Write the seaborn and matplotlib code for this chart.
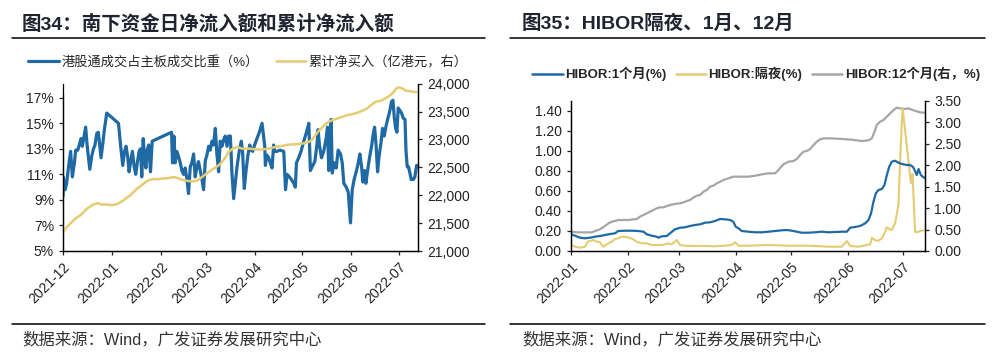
#!/usr/bin/env python3
"""
Southbound flows (fig 34) and HIBOR curves (fig 35), side by side.
"""

import matplotlib
matplotlib.use("Agg")
import matplotlib.pyplot as plt
import matplotlib.ticker as mticker
from matplotlib.lines import Line2D
import seaborn as sns
import pandas as pd

# --- fig 34: day offsets from 2021-12-01 ---
share_day = [0, 0.2, 1.3, 2.3, 3.4, 4.8, 5.9, 7.2, 8.0, 9.3,
             10.3, 11.4, 12.2, 13.3, 14.3, 15.2, 16.0, 16.9, 18.1, 19.2,
             20.2, 21.3, 22.3, 23.2, 24.0, 25.1, 26.1, 27.6, 35.0, 36.4,
             37.7, 38.8, 39.8, 40.9, 41.7, 42.8, 43.8, 44.9, 45.9, 47.0,
             48.0, 48.9, 49.7, 50.6, 51.4, 52.3, 53.1, 54.1, 55.2, 56.3,
             68.5, 69.1, 70.0, 70.8, 71.8, 72.9, 74.0, 75.0, 76.1, 77.1,
             78.2, 79.2, 80.3, 81.3, 82.4, 83.4, 84.5, 85.5, 86.6, 87.7,
             88.7, 89.8, 90.8, 91.9, 92.9, 94.0, 95.0, 96.1, 97.1, 98.2,
             99.2, 100.3, 101.3, 102.4, 103.5, 104.5, 105.6, 106.6, 107.7, 109.8,
             111.2, 112.5, 113.3, 114.4, 115.5, 116.7, 117.8, 118.8, 119.7, 120.9,
             122.4, 123.9, 125.6, 127.3, 127.7, 128.7, 129.8, 130.8, 131.9, 132.9,
             133.6, 135.0, 136.8, 139.3, 140.4, 141.4, 142.9, 144.1, 145.6, 146.6,
             147.3, 148.7, 150.2, 151.9, 153.4, 155.1, 156.1, 157.2, 158.9, 160.3,
             161.0, 161.8, 163.1, 164.5, 166.0, 166.9, 167.7, 168.6, 169.2, 169.9,
             171.1, 172.4, 173.6, 175.1, 176.2, 177.2, 178.7, 180.0, 181.4, 182.5,
             183.7, 185.0, 186.3, 187.3, 188.4, 189.2, 190.3, 191.1, 192.2, 193.4,
             194.7, 195.7, 196.6, 197.6, 198.5, 199.5, 200.6, 201.6, 202.7, 203.7,
             204.8, 206.1, 207.3, 208.2, 209.0, 209.9, 210.7, 211.5, 212.6, 213.6,
             214.7, 215.8, 216.4, 217.2, 218.0, 218.9, 219.7, 221.0, 222.0, 223.1]
share_pct = [9.3, 10.8, 9.8, 10.3, 11.5, 12.8, 10.8, 11.9, 12.9, 12.9,
             13.3, 13.8, 13.2, 14.0, 14.7, 13.3, 12.4, 11.4, 12.4, 13.0,
             13.3, 14.2, 14.3, 13.2, 12.3, 13.4, 14.5, 15.8, 15.0, 13.2,
             11.7, 12.8, 13.2, 12.3, 11.2, 12.1, 12.8, 11.6, 11.0, 12.0,
             12.8, 13.0, 10.8, 13.8, 12.4, 11.5, 12.9, 13.3, 11.2, 13.6,
             14.3, 11.9, 14.0, 11.9, 12.8, 12.4, 11.9, 11.3, 11.0, 11.5,
             10.6, 9.5, 11.6, 11.9, 12.6, 10.8, 11.6, 12.0, 11.3, 10.6,
             9.8, 12.1, 12.5, 13.2, 12.9, 13.6, 13.3, 14.6, 12.6, 11.2,
             13.6, 13.2, 13.7, 14.0, 13.2, 14.0, 14.0, 11.1, 9.1, 11.6,
             12.8, 13.6, 12.8, 9.9, 11.3, 12.5, 13.3, 12.9, 12.8, 13.3,
             13.8, 14.3, 15.0, 13.2, 11.7, 12.5, 12.3, 11.9, 11.5, 13.3,
             12.8, 12.8, 12.9, 12.8, 9.8, 11.0, 10.8, 10.6, 10.3, 10.0,
             11.9, 12.3, 12.8, 13.6, 14.2, 15.0, 11.3, 11.6, 12.0, 13.4,
             14.5, 13.3, 12.3, 12.8, 13.8, 14.7, 11.3, 14.0, 15.3, 11.1,
             11.9, 11.5, 12.9, 12.6, 11.9, 10.3, 10.0, 9.6, 7.2, 9.8,
             10.6, 11.2, 11.9, 12.6, 11.6, 10.4, 11.3, 10.3, 11.3, 12.3,
             13.2, 14.1, 14.7, 13.2, 11.2, 12.5, 13.4, 14.6, 14.0, 14.7,
             15.3, 15.9, 16.7, 16.8, 15.5, 14.6, 14.3, 16.2, 16.0, 15.8,
             15.4, 15.3, 12.9, 11.6, 11.6, 11.1, 10.6, 10.6, 10.8, 11.7]

cum_day = [0, 2.3, 5.5, 7.6, 10.7, 12.9, 15.0, 17.1, 19.2, 21.9,
           24.4, 27.6, 30.8, 34.0, 38.1, 40.2, 42.3, 44.5, 46.6, 48.7,
           50.8, 52.9, 55.0, 57.1, 60.3, 66.6, 69.8, 71.9, 75.0, 77.1,
           79.2, 81.3, 83.4, 85.5, 87.7, 89.8, 91.9, 94.0, 96.1, 98.2,
           100.3, 102.4, 104.5, 106.6, 109.7, 112.9, 117.1, 121.4, 125.6, 129.8,
           134.0, 138.2, 142.4, 146.6, 150.9, 155.1, 157.2, 159.3, 161.4, 163.5,
           165.6, 167.7, 169.9, 172.0, 174.1, 176.2, 179.3, 182.5, 185.6, 188.8,
           191.9, 195.1, 197.2, 200.4, 203.5, 206.7, 208.8, 210.3, 212.0, 214.1,
           216.2, 218.3, 220.4, 223.1]
cum_buy = [21335, 21426, 21516, 21576, 21636, 21696, 21756, 21798, 21834, 21858,
           21834, 21834, 21822, 21840, 21906, 21954, 21996, 22056, 22116, 22158,
           22206, 22254, 22278, 22290, 22290, 22308, 22326, 22314, 22278, 22266,
           22254, 22248, 22254, 22278, 22326, 22374, 22416, 22458, 22494, 22536,
           22596, 22674, 22776, 22824, 22866, 22836, 22836, 22824, 22818, 22836,
           22866, 22884, 22908, 22914, 22926, 22956, 22998, 23076, 23154, 23214,
           23274, 23316, 23346, 23364, 23388, 23406, 23436, 23454, 23478, 23514,
           23556, 23634, 23676, 23694, 23736, 23796, 23856, 23916, 23934, 23916,
           23874, 23868, 23856, 23850]

# --- fig 35: day offsets from 2022-01-01 ---
m1_day = [0, 2.2, 4.9, 7.6, 10.4, 13.1, 16.7, 20.4, 24.0, 25.8,
          29.5, 33.1, 36.7, 39.5, 41.3, 44.0, 46.7, 47.6, 49.5, 52.2,
          54.0, 56.7, 59.5, 62.2, 64.9, 67.6, 70.4, 73.1, 75.8, 78.5,
          81.3, 84.0, 86.7, 88.5, 89.8, 91.3, 93.1, 96.7, 100.4, 104.0,
          107.6, 111.3, 114.9, 117.6, 120.4, 123.1, 125.8, 129.5, 133.1, 136.7,
          140.4, 144.0, 147.6, 150.4, 152.2, 154.9, 157.6, 160.4, 162.2, 163.6,
          164.9, 166.2, 167.6, 169.5, 170.9, 172.2, 173.5, 174.9, 176.7, 178.5,
          180.4, 183.1, 184.9, 186.5, 187.6, 188.5, 189.5, 190.7, 192.0, 193.1]
m1_rate = [0.167, 0.153, 0.133, 0.127, 0.133, 0.143, 0.153, 0.167, 0.177, 0.20,
           0.203, 0.203, 0.20, 0.193, 0.167, 0.153, 0.143, 0.133, 0.147, 0.150,
           0.177, 0.217, 0.233, 0.237, 0.25, 0.26, 0.267, 0.283, 0.287, 0.30,
           0.32, 0.317, 0.31, 0.293, 0.243, 0.227, 0.20, 0.193, 0.187, 0.187,
           0.193, 0.20, 0.207, 0.21, 0.203, 0.193, 0.183, 0.183, 0.187, 0.193,
           0.187, 0.19, 0.193, 0.193, 0.233, 0.24, 0.25, 0.277, 0.31, 0.377,
           0.493, 0.577, 0.61, 0.62, 0.66, 0.76, 0.843, 0.893, 0.903, 0.883,
           0.87, 0.86, 0.86, 0.84, 0.80, 0.76, 0.82, 0.76, 0.74, 0.727]

on_day = [0, 2.2, 4.9, 7.6, 9.1, 10.4, 12.2, 14.0, 15.8, 17.6,
          19.5, 22.2, 24.0, 25.8, 27.6, 30.4, 33.6, 35.8, 38.5, 41.3,
          44.0, 46.7, 49.5, 51.3, 53.1, 54.9, 57.6, 59.5, 62.2, 67.6,
          73.1, 78.5, 84.0, 87.6, 89.5, 91.3, 96.7, 107.6, 118.5, 129.5,
          140.4, 147.6, 150.4, 152.2, 156.7, 161.3, 163.1, 164.0, 165.8, 167.6,
          169.5, 170.9, 172.2, 173.5, 174.9, 176.7, 178.5, 179.8, 180.8, 185.3,
          186.2, 187.6, 189.0, 190.4, 193.1]
on_rate = [0.06, 0.043, 0.033, 0.043, 0.093, 0.10, 0.11, 0.093, 0.087, 0.043,
           0.067, 0.093, 0.12, 0.127, 0.143, 0.14, 0.12, 0.093, 0.077, 0.077,
           0.06, 0.06, 0.06, 0.067, 0.077, 0.067, 0.11, 0.06, 0.053, 0.05,
           0.05, 0.047, 0.053, 0.06, 0.087, 0.053, 0.053, 0.06, 0.053, 0.053,
           0.043, 0.043, 0.10, 0.05, 0.043, 0.06, 0.067, 0.133, 0.107, 0.103,
           0.127, 0.177, 0.237, 0.22, 0.21, 0.277, 0.46, 1.06, 1.43, 0.68,
           0.77, 0.19, 0.19, 0.20, 0.21]

m12_day = [0, 4.0, 7.6, 11.3, 13.1, 14.9, 16.7, 18.5, 20.4, 22.2,
           24.0, 25.8, 28.5, 31.3, 34.0, 35.8, 37.6, 39.5, 41.3, 43.1,
           44.9, 46.7, 48.5, 50.4, 52.2, 54.0, 55.8, 57.6, 59.5, 61.3,
           63.1, 64.9, 66.7, 68.5, 70.4, 72.2, 74.0, 75.8, 77.6, 79.5,
           81.3, 83.1, 85.8, 88.5, 91.3, 96.7, 100.4, 104.0, 107.6, 111.3,
           113.1, 115.8, 118.5, 121.3, 123.1, 124.9, 126.7, 128.5, 130.4, 132.2,
           134.0, 135.8, 137.6, 142.2, 147.6, 153.1, 158.5, 162.2, 164.0, 165.5,
           166.7, 168.5, 170.4, 172.2, 174.0, 175.8, 177.6, 179.5, 181.3, 184.0,
           187.6, 190.4, 193.1]
m12_rate = [0.451, 0.435, 0.435, 0.435, 0.467, 0.49, 0.529, 0.583, 0.645, 0.684,
            0.70, 0.723, 0.723, 0.723, 0.739, 0.747, 0.801, 0.84, 0.879, 0.918,
            0.956, 0.995, 1.019, 1.019, 1.05, 1.073, 1.089, 1.104, 1.112, 1.135,
            1.166, 1.19, 1.244, 1.291, 1.306, 1.384, 1.423, 1.50, 1.524, 1.579,
            1.617, 1.656, 1.695, 1.734, 1.734, 1.734, 1.757, 1.788, 1.812, 1.812,
            1.89, 2.022, 2.084, 2.10, 2.146, 2.239, 2.317, 2.333, 2.38, 2.473,
            2.55, 2.605, 2.628, 2.628, 2.613, 2.597, 2.566, 2.582, 2.628, 2.784,
            2.939, 3.017, 3.056, 3.134, 3.211, 3.289, 3.344, 3.328, 3.313, 3.328,
            3.27, 3.235, 3.227]

labels_34 = ["港股通成交占主板成交比重（%）", "累计净买入（亿港元，右）"]
labels_35 = ["HIBOR:1个月(%)", "HIBOR:隔夜(%)", "HIBOR:12个月(右，%)"]

BLUE = "#1f6aa5"
GOLD = "#e5cb72"
GREY = "#a6a6a6"
FONTS = ["Liberation Sans", "Noto Sans CJK SC"]


def to_dates(start, days):
    return pd.Timestamp(start) + pd.to_timedelta(days, unit="D")


def style_axes(ax):
    ax.spines["top"].set_visible(False)
    for s in ("left", "right", "bottom"):
        ax.spines[s].set_color("black")
        ax.spines[s].set_linewidth(0.9)
    ax.tick_params(direction="out", length=3, width=0.9, labelsize=10,
                   colors="#222222")
    ax.set_xlabel("")
    ax.set_ylabel("")


sns.set_style("ticks")
plt.rcParams["font.family"] = FONTS
plt.rcParams["axes.unicode_minus"] = False

W, H = 994, 362
fig = plt.figure(figsize=(W / 100, H / 100), dpi=100)

# ---------------- left panel ----------------
ax1 = fig.add_axes([63 / W, (H - 251) / H, 355 / W, 167.3 / H])
ax1r = ax1.twinx()

df_share = pd.DataFrame({"date": to_dates("2021-12-01", share_day), "v": share_pct})
df_cum = pd.DataFrame({"date": to_dates("2021-12-01", cum_day), "v": cum_buy})

sns.lineplot(data=df_share, x="date", y="v", ax=ax1, color=BLUE, lw=2.3,
             estimator=None, legend=False)
sns.lineplot(data=df_cum, x="date", y="v", ax=ax1r, color=GOLD, lw=1.8,
             estimator=None, legend=False)

ax1.set_ylim(5, 18.1)
ax1.set_yticks(range(5, 18, 2))
ax1.yaxis.set_major_formatter(mticker.FuncFormatter(lambda v, p: f"{v:.0f}%"))
ax1.spines["left"].set_bounds(5, 17.2)
ax1r.set_ylim(21000, 24000)
ax1r.set_yticks(range(21000, 24001, 500))
ax1r.yaxis.set_major_formatter(mticker.FuncFormatter(lambda v, p: f"{v:,.0f}"))

x0 = pd.Timestamp("2021-12-01")
ax1.set_xlim(x0, x0 + pd.Timedelta(days=224))
ticks1 = pd.date_range("2021-12-01", "2022-07-01", freq="MS")
ax1.set_xticks(ticks1)
ax1.set_xticklabels([t.strftime("%Y-%m") for t in ticks1], rotation=45,
                    ha="right", rotation_mode="anchor", fontsize=9.5)
style_axes(ax1)
style_axes(ax1r)

h34 = [Line2D([], [], color=BLUE, lw=2.3), Line2D([], [], color=GOLD, lw=1.8)]
fig.legend(h34, labels_34, loc="center", bbox_to_anchor=(248 / W, 1 - 62 / H),
           ncol=2, frameon=False, fontsize=9.5, handlelength=2.3,
           handletextpad=0.2, columnspacing=1.3)

# ---------------- right panel ----------------
ax2 = fig.add_axes([571 / W, (H - 251) / H, 354 / W, 150 / H])
ax2r = ax2.twinx()

df_m1 = pd.DataFrame({"date": to_dates("2022-01-01", m1_day), "v": m1_rate})
df_on = pd.DataFrame({"date": to_dates("2022-01-01", on_day), "v": on_rate})
df_m12 = pd.DataFrame({"date": to_dates("2022-01-01", m12_day), "v": m12_rate})

sns.lineplot(data=df_m12, x="date", y="v", ax=ax2r, color=GREY, lw=1.6,
             estimator=None, legend=False)
sns.lineplot(data=df_on, x="date", y="v", ax=ax2, color=GOLD, lw=1.5,
             estimator=None, legend=False)
sns.lineplot(data=df_m1, x="date", y="v", ax=ax2, color=BLUE, lw=1.6,
             estimator=None, legend=False)
ax2.set_zorder(ax2r.get_zorder() + 1)
ax2.patch.set_visible(False)

ax2.set_ylim(0, 1.5)
ax2.set_yticks([0, 0.2, 0.4, 0.6, 0.8, 1.0, 1.2, 1.4])
ax2.yaxis.set_major_formatter(mticker.FormatStrFormatter("%.2f"))
ax2r.set_ylim(0, 3.5)
ax2r.set_yticks([0, 0.5, 1.0, 1.5, 2.0, 2.5, 3.0, 3.5])
ax2r.yaxis.set_major_formatter(mticker.FormatStrFormatter("%.2f"))

x1 = pd.Timestamp("2022-01-01")
ax2.set_xlim(x1, x1 + pd.Timedelta(days=193))
ticks2 = pd.date_range("2022-01-01", "2022-07-01", freq="MS")
ax2.set_xticks(ticks2)
ax2.set_xticklabels([t.strftime("%Y-%m") for t in ticks2], rotation=45,
                    ha="right", rotation_mode="anchor", fontsize=9.5)
style_axes(ax2)
style_axes(ax2r)

h35 = [Line2D([], [], color=BLUE, lw=1.8), Line2D([], [], color=GOLD, lw=1.8),
       Line2D([], [], color=GREY, lw=1.8)]
fig.legend(h35, labels_35, loc="center", bbox_to_anchor=(756 / W, 1 - 74 / H),
           ncol=3, frameon=False, handlelength=2.3, handletextpad=0.2,
           columnspacing=0.7, prop={"size": 9.5, "weight": "bold", "family": FONTS})

# ---------------- titles, rules, source ----------------
fig.text(22 / W, 1 - 24 / H, "图34：南下资金日净流入额和累计净流入额",
         fontsize=14, fontweight="bold", va="center", color="#1f2430")
fig.text(522 / W, 1 - 24 / H, "图35：HIBOR隔夜、1月、12月",
         fontsize=14, fontweight="bold", va="center", color="#1f2430")
for xa, xb in ((12, 485), (510, 985)):
    for yy in (38, 324):
        fig.add_artist(Line2D([xa / W, xb / W], [1 - yy / H] * 2,
                              color="black", lw=1.1))
for xs in (22, 522):
    fig.text(xs / W, 1 - 340 / H, "数据来源：Wind，广发证券发展研究中心",
             fontsize=11.8, va="center", color="#333333")

fig.savefig("out.png", dpi=100)
